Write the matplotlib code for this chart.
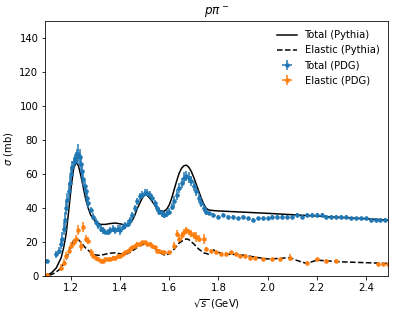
import numpy as np
import matplotlib
matplotlib.use("Agg")
import matplotlib.pyplot as plt

# Pythia curves
py_x = [1.08, 1.10, 1.12, 1.14, 1.16, 1.17, 1.18, 1.19, 1.20, 1.21, 1.22, 1.23, 1.24, 1.25, 1.26, 1.27, 1.28,
        1.30, 1.32, 1.34, 1.36, 1.38, 1.40, 1.42, 1.43, 1.44, 1.45, 1.46, 1.47, 1.48, 1.49, 1.50, 1.51, 1.52,
        1.53, 1.54, 1.55, 1.56, 1.57, 1.58, 1.59, 1.60, 1.61, 1.62, 1.63, 1.64, 1.65, 1.66, 1.67, 1.68, 1.69,
        1.70, 1.71, 1.72, 1.73, 1.74, 1.75, 1.76, 1.78, 1.80, 2.00, 2.20, 2.40, 2.50]
py_tot = [0, 0.5, 2, 5, 11, 17, 25, 38, 52, 63, 67, 65, 59, 52, 45, 40, 36,
          32, 30.5, 30.5, 31, 31.3, 30.8, 30.2, 30, 31, 33, 36, 40, 43, 46, 48, 47.5, 46,
          44, 42, 40, 38.8, 38.2, 38.3, 39.5, 42, 46, 51, 56, 60.5, 63.5, 65, 65.3, 64, 61.5,
          58, 54, 50, 46, 42.5, 40, 39, 38.6, 38.4, 37, 35.4, 33.8, 33]
el_x = [1.08, 1.10, 1.12, 1.14, 1.16, 1.18, 1.19, 1.20, 1.21, 1.22, 1.23, 1.24, 1.26, 1.28, 1.30, 1.32,
        1.34, 1.36, 1.38, 1.40, 1.42, 1.44, 1.46, 1.48, 1.50, 1.51, 1.52, 1.54, 1.56, 1.58, 1.60,
        1.62, 1.64, 1.66, 1.67, 1.68, 1.70, 1.72, 1.74, 1.76, 1.78, 1.80, 1.84, 1.88, 1.92, 1.96,
        2.00, 2.05, 2.09, 2.12, 2.16, 2.20, 2.25, 2.30, 2.40, 2.50]
py_el = [0, 0.2, 1, 2.5, 5, 10, 14, 18, 21, 22, 21.5, 20, 16.5, 14, 12.5, 12.3,
         13, 13.6, 13.8, 13.2, 12.8, 14, 16, 18, 19, 19, 18.5, 16.5, 14, 12.5, 13.2,
         16, 19.5, 21.5, 22, 21.5, 19, 16, 13.8, 13, 15.5, 14, 13, 12.8, 12, 11,
         10.2, 10.5, 11, 9.3, 7.5, 9.5, 9, 8.5, 8, 7.5]

# PDG total
tot_x = [1.100, 1.140, 1.150, 1.160, 1.165, 1.170, 1.175, 1.180, 1.185, 1.190, 1.195, 1.200, 1.205, 1.210,
         1.215, 1.220, 1.225, 1.230, 1.235, 1.240, 1.245, 1.250, 1.255, 1.260, 1.265, 1.270, 1.280, 1.290,
         1.300, 1.310, 1.320, 1.330, 1.340, 1.350, 1.360, 1.370, 1.380, 1.390, 1.400, 1.410, 1.420, 1.430,
         1.440, 1.450, 1.460, 1.470, 1.480, 1.490, 1.500, 1.510, 1.520, 1.530, 1.540, 1.550, 1.560, 1.570,
         1.580, 1.590, 1.600, 1.610, 1.620, 1.630, 1.640, 1.650, 1.660, 1.670, 1.680, 1.690, 1.700, 1.710,
         1.720, 1.730, 1.740, 1.750, 1.760, 1.780, 1.800, 1.820, 1.840, 1.860, 1.880, 1.900, 1.920, 1.940,
         1.960, 1.980, 2.000, 2.020, 2.040, 2.060, 2.080, 2.100, 2.120, 2.140, 2.160, 2.180, 2.200, 2.220,
         2.240, 2.260, 2.280, 2.300, 2.320, 2.340, 2.360, 2.380, 2.400, 2.420, 2.440, 2.460, 2.480]
tot_y = [9, 13, 15, 19, 22, 28, 33, 40, 45, 50, 55, 60, 64, 67,
         69, 70, 71, 72, 70, 66, 62, 57, 53, 50, 46, 43, 39, 35,
         32, 30, 28, 27, 26, 26, 27, 28, 27, 28, 27, 29, 30, 31,
         33, 36, 40, 44, 47, 48, 49, 49, 48, 46, 43, 40, 38, 37,
         36, 37, 38, 41, 44, 48, 52, 55, 58, 59, 58, 56, 53, 50,
         46, 43, 40, 38, 37, 36, 35, 36, 35, 35, 34, 35, 34, 33,
         34, 34, 34, 35, 35, 35, 35, 35, 36, 35, 36, 36, 36, 36,
         35, 35, 35, 35, 35, 34, 34, 34, 34, 33, 33, 33, 33]
tot_err = [1, 2, 2, 3, 4, 4, 5, 4, 4, 5, 4, 4, 4, 3,
           3, 3, 4, 6, 5, 5, 4, 4, 3, 3, 3, 3, 2, 2,
           2, 2, 2, 2, 1, 2, 2, 2, 2, 2, 3, 2, 2, 2,
           2, 2, 2, 2, 2, 2, 2, 2, 2, 2, 2, 2, 2, 2,
           2, 2, 2, 2, 3, 3, 3, 3, 3, 3, 3, 3, 3, 3,
           3, 2, 2, 2, 1, 1, 1, 1, 1, 1, 1, 1, 1, 1,
           1, 1, 1, 1, 1, 1, 1, 1, 1, 1, 1, 1, 1, 1,
           1, 1, 1, 1, 1, 1, 1, 1, 1, 1, 1, 1, 1]

# PDG elastic
el_dx = [1.100, 1.160, 1.170, 1.180, 1.190, 1.200, 1.210, 1.220, 1.230, 1.240, 1.250, 1.260, 1.270, 1.280,
         1.290, 1.300, 1.310, 1.320, 1.330, 1.340, 1.350, 1.360, 1.370, 1.380, 1.390, 1.400, 1.410, 1.420,
         1.430, 1.440, 1.450, 1.460, 1.470, 1.480, 1.490, 1.500, 1.510, 1.520, 1.530, 1.540, 1.550, 1.560,
         1.570, 1.580, 1.600, 1.620, 1.630, 1.640, 1.650, 1.660, 1.670, 1.680, 1.690, 1.700, 1.710, 1.720,
         1.740, 1.750, 1.770, 1.790, 1.810, 1.830, 1.850, 1.870, 1.890, 1.910, 1.930, 1.950, 1.980, 2.020,
         2.050, 2.090, 2.160, 2.200, 2.240, 2.280, 2.450, 2.470, 2.490]
el_dy = [1, 5, 8, 12, 15, 18, 20, 22, 27, 18, 29, 22, 21, 14,
         12, 11, 10, 9, 9, 10, 10, 10, 11, 11, 12, 12, 13, 14,
         15, 16, 17, 18, 19, 19, 20, 20, 19, 19, 18, 17, 15, 15,
         14, 14, 14, 18, 25, 22, 24, 26, 27, 26, 25, 24, 23, 22,
         22, 16, 15, 14, 13, 13, 14, 13, 12, 12, 11, 11, 10, 10,
         10, 11, 8, 10, 9, 9, 7, 7, 7]
el_derr = [1, 2, 2, 2, 2, 2, 2, 2, 3, 3, 3, 2, 2, 2,
           1, 1, 1, 1, 1, 1, 1, 1, 1, 1, 1, 1, 1, 1,
           1, 1, 1, 1, 1, 1, 1, 1, 1, 1, 1, 1, 1, 1,
           1, 1, 1, 2, 2, 2, 2, 2, 2, 2, 2, 2, 3, 2,
           3, 1, 1, 1, 1, 1, 1, 1, 1, 1, 1, 1, 1, 1,
           1, 2, 1, 1, 1, 1, 1, 1, 1]

dpi = 72
fig = plt.figure(figsize=(399 / dpi, 314 / dpi), dpi=dpi)
ax = fig.add_axes([45.3 / 399, (314 - 276.3) / 314, (388.3 - 45.3) / 399, (276.3 - 21) / 314])

ax.plot(py_x, py_tot, color="black", lw=1.5, label="Total (Pythia)")
ax.plot(el_x, py_el, color="black", lw=1.5, ls="--", label="Elastic (Pythia)")
ax.errorbar(tot_x, tot_y, yerr=tot_err, xerr=0.004, fmt=".", color="tab:blue", ms=7, label="Total (PDG)")
ax.errorbar(el_dx, el_dy, yerr=el_derr, xerr=0.004, fmt=".", color="tab:orange", ms=7, label="Elastic (PDG)")

ax.set_xlim(1.095, 2.492)
ax.set_ylim(0, 150)
ax.set_xticks([1.2, 1.4, 1.6, 1.8, 2.0, 2.2, 2.4])
ax.set_yticks([0, 20, 40, 60, 80, 100, 120, 140])
ax.set_xlabel(r"$\sqrt{s}$ (GeV)")
ax.set_ylabel(r"$\sigma$ (mb)")
ax.set_title(r"$p\pi^-$")
ax.legend(loc="upper right", frameon=False)

fig.savefig("out.png", dpi=dpi)
